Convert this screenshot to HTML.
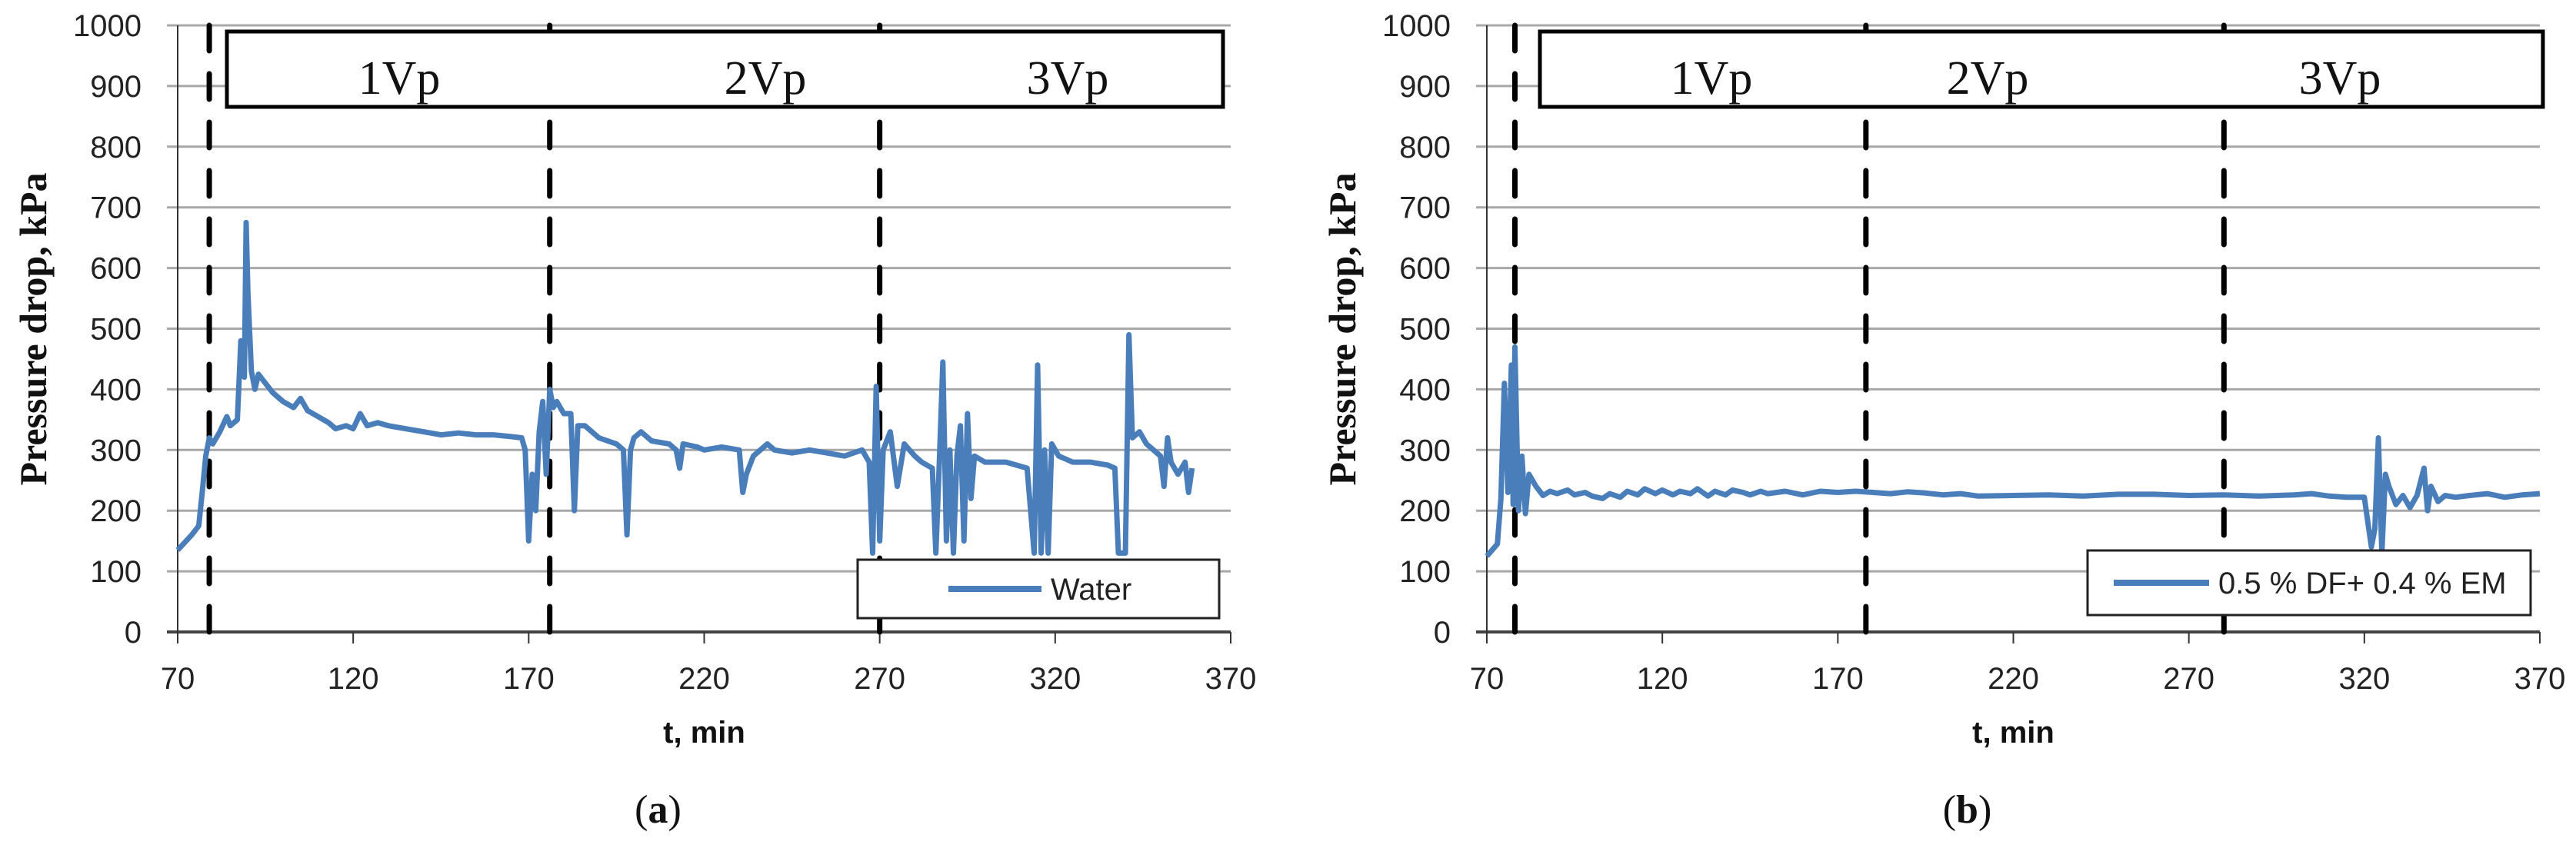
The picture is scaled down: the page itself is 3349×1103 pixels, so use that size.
<!DOCTYPE html>
<html><head><meta charset="utf-8"><style>
html,body{margin:0;padding:0;background:#fff;}
svg{display:block;}
</style></head><body>
<svg id="fig" width="3349" height="1103" xmlns="http://www.w3.org/2000/svg">
<g id="pa"></g>
<g id="pb"></g>
</svg>
<script>
const yTicks=[0,100,200,300,400,500,600,700,800,900,1000];
const xTicks=[70,120,170,220,270,320,370];
const waterT=[70,74,76,77,78,79,80,82,84,85,87,88,89,89.5,90,91,92,93,95,97,100,103,105,107,110,113,115,118,120,122,124,127,130,135,140,145,150,155,160,165,168,169,170,171,172,173,174,175,176,177,178,180,182,183,184,186,190,195,197,198,199,200,202,205,210,212,213,214,218,220,225,230,231,232,234,236,238,240,245,250,255,260,265,267,268,269,270,271,273,275,277,280,282,285,286,287,288,289,290,291,292,293,294,295,296,297,300,303,306,309,312,314,315,316,317,318,319,321,325,330,335,337,338,340,341,342,344,346,348,350,351,352,353,355,357,358,359];
const waterP=[135,160,175,230,290,320,310,330,355,340,350,480,420,675,560,430,400,425,410,395,380,370,385,365,355,345,335,340,335,360,340,345,340,335,330,325,328,325,325,322,320,300,150,260,200,330,380,260,400,370,380,360,360,200,340,340,320,310,300,160,300,320,330,315,310,300,270,310,305,300,305,300,230,260,290,300,310,300,295,300,295,290,300,280,130,405,150,300,330,240,310,290,280,270,130,280,445,150,300,130,290,340,150,360,220,290,280,280,280,275,270,130,440,130,300,130,310,290,280,280,275,270,130,130,490,320,330,310,300,290,240,320,280,260,280,230,270];
const dfT=[70,73,74,75,76,77,77.5,78,79,80,81,82,84,86,88,90,93,95,98,100,103,105,108,110,113,115,118,120,123,125,128,130,133,135,138,140,143,145,148,150,155,160,165,170,175,180,185,190,195,200,205,210,220,230,240,250,260,270,280,290,300,305,310,315,320,322,323,324,325,326,327,329,331,333,335,337,338,339,341,343,346,350,355,360,365,370];
const dfP=[125,145,220,410,230,440,210,470,200,290,195,260,240,225,232,228,234,226,230,224,220,228,222,232,226,236,228,234,226,232,228,236,224,232,226,234,230,226,232,228,232,226,232,230,232,230,228,231,229,226,228,224,225,226,224,227,227,225,226,224,226,228,224,222,222,140,170,320,130,260,240,210,225,205,225,270,200,240,215,225,222,225,228,222,226,228];
const vpA=[79,176,270];
const vpB=[78,178,280];
const phaseLabels=["1Vp","2Vp","3Vp"];
const NS="http://www.w3.org/2000/svg";
function mk(parent,tag,attrs,text){const e=document.createElementNS(NS,tag);for(const k in attrs)e.setAttribute(k,attrs[k]);if(text!==undefined)e.textContent=text;parent.appendChild(e);return e;}
function panel(g,cfg){
  const X=t=>cfg.x0+(t-70)/300*(cfg.x1-cfg.x0);
  const Y=v=>822-(v/1000)*(822-33);
  yTicks.forEach(v=>{
    const l=mk(g,'line',{x1:cfg.x0-14,x2:cfg.x1,y1:Y(v),y2:Y(v),stroke:v===0?'#444':'#a8a8a8','stroke-width':v===0?4:3});
    
    
    const t=mk(g,'text',{x:cfg.x0-47,y:Y(v)+14,'text-anchor':'end','font-family':'Liberation Sans, sans-serif','font-size':40,fill:'#222'},String(v));
    
    
  });
  const ax=mk(g,'line',{x1:cfg.x0,x2:cfg.x0,y1:Y(1000),y2:Y(0)+14,stroke:'#333','stroke-width':2});
  
  
  xTicks.forEach(v=>{
    const l=mk(g,'line',{x1:X(v),x2:X(v),y1:Y(0),y2:Y(0)+15,stroke:'#333','stroke-width':2});
    
    
    const t=mk(g,'text',{x:X(v),y:896,'text-anchor':'middle','font-family':'Liberation Sans, sans-serif','font-size':40,fill:'#222'},String(v));
    
    
  });
  cfg.vp.forEach(v=>{
    const l=mk(g,'line',{x1:X(v),x2:X(v),y1:Y(1000),y2:Y(0),stroke:'#000','stroke-width':7,'stroke-dasharray':'33 30','stroke-linecap':'round'});
    
    
  });
  const box=mk(g,'rect',{x:cfg.bx0,y:41,width:cfg.bx1-cfg.bx0,height:98,fill:'#fff',stroke:'#000','stroke-width':5});
  
  
  phaseLabels.forEach((s,i)=>{
    const t=mk(g,'text',{x:cfg.lx[i],y:122,'text-anchor':'middle','font-family':'Liberation Serif, serif','font-size':62,fill:'#111'},s);
    
    
  });
  const pts=cfg.T.map((t,i)=>X(t).toFixed(1)+','+Y(cfg.P[i]).toFixed(1)).join(' ');
  const pl=mk(g,'polyline',{points:pts,fill:'none',stroke:'#4a7ebb','stroke-width':7,'stroke-linejoin':'round'});
  
  
  const lg=mk(g,'g',{});
  
  
  mk(lg,'rect',{x:cfg.lg[0],y:cfg.lg[1],width:cfg.lg[2],height:cfg.lg[3],fill:'#fff',stroke:'#222','stroke-width':3});
  mk(lg,'line',{x1:cfg.ll[0],x2:cfg.ll[1],y1:cfg.lg[1]+cfg.lg[3]/2,y2:cfg.lg[1]+cfg.lg[3]/2,stroke:'#4a7ebb','stroke-width':8});
  mk(lg,'text',{x:cfg.ll[1]+12,y:cfg.lg[1]+cfg.lg[3]/2+14,'font-family':'Liberation Sans, sans-serif','font-size':40,fill:'#222'},cfg.name);
  const yt=mk(g,'text',{transform:`translate(${cfg.ytx},428) rotate(-90)`,'text-anchor':'middle','font-family':'Liberation Serif, serif','font-weight':'bold','font-size':50,fill:'#111'},'Pressure drop, kPa');
  
  
  const xt=mk(g,'text',{x:(cfg.x0+cfg.x1)/2,y:966,'text-anchor':'middle','font-family':'Liberation Sans, sans-serif','font-weight':'bold','font-size':40,fill:'#111'},'t, min');
  
  
  const cap=mk(g,'text',{x:(cfg.x0+cfg.x1)/2-60,y:1070,'text-anchor':'middle','font-family':'Liberation Serif, serif','font-size':52,fill:'#111'});
  
  
  mk(cap,'tspan',{},'(');mk(cap,'tspan',{'font-weight':'bold'},cfg.cap);mk(cap,'tspan',{},')');
}
panel(document.getElementById('pa'),{x0:231,x1:1600,T:waterT,P:waterP,vp:vpA,bx0:295,bx1:1590,lx:[519,995,1388],lg:[1115,728,470,76],ll:[1233,1354],name:'Water',ytx:60,cap:'a'});
panel(document.getElementById('pb'),{x0:1933,x1:3302,T:dfT,P:dfP,vp:vpB,bx0:2002,bx1:3306,lx:[2225,2584,3042],lg:[2714,716,576,84],ll:[2748,2872],name:'0.5 % DF+ 0.4 % EM',ytx:1762,cap:'b'});
</script>
</body></html>
